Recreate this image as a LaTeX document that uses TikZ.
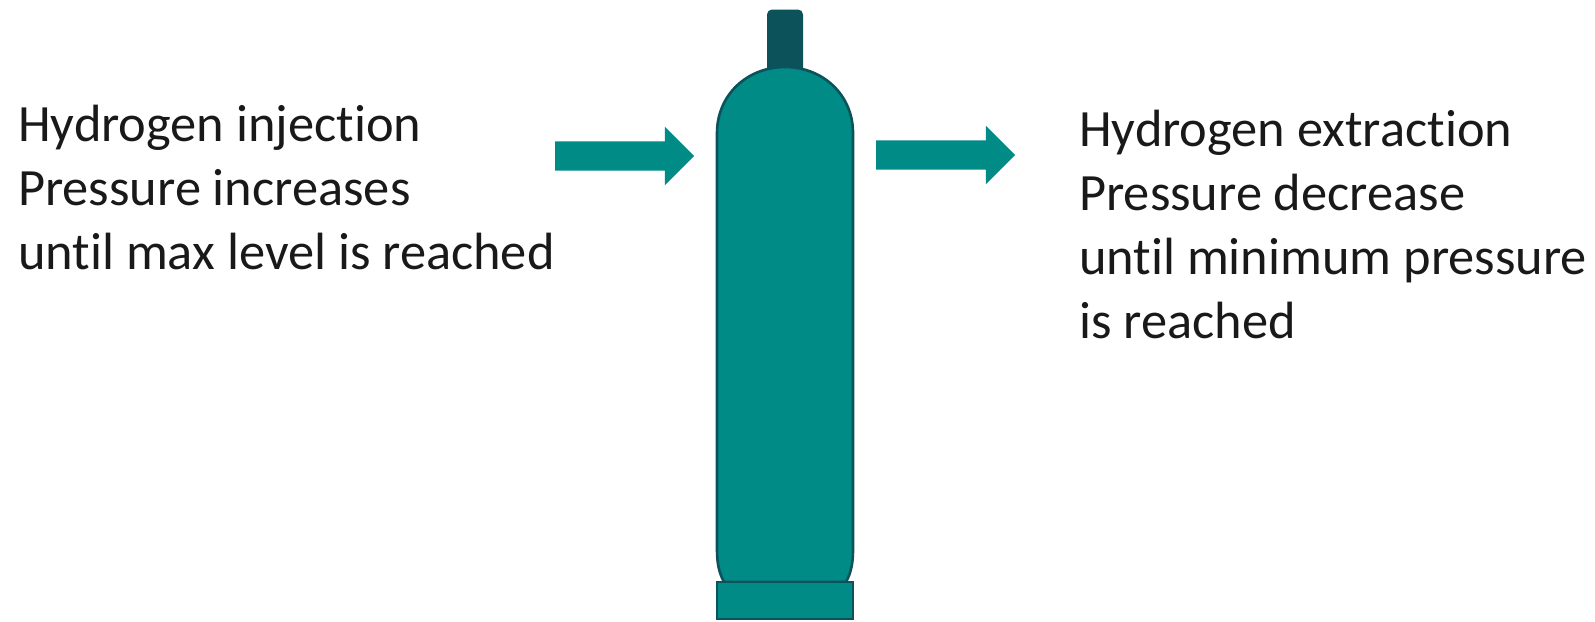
\documentclass[tikz,border=0pt]{standalone}
\usepackage{fontspec}
\setmainfont[Ligatures=NoCommon]{Carlito}
\usepackage{xcolor}
\usetikzlibrary{positioning, shapes.arrows}
\definecolor{tealfill}{RGB}{0,139,135}
\definecolor{tealdark}{RGB}{11,82,91}
\tikzset{
  label text/.style={
    anchor=north west, align=left, inner sep=0pt, text=black!90,
    font=\fontsize{52.4}{64}\selectfont
  },
  flow arrow/.style={
    single arrow, fill=tealfill, draw=none, inner sep=14.5pt, outer sep=0pt, anchor=west,
    minimum height=139pt, minimum width=58pt,
    single arrow head extend=14.5pt, single arrow head indent=0pt,
    shape border rotate=0
  },
  tank part/.style={fill=tealfill, draw=tealdark, line width=2.6pt},
}

\begin{document}
\begin{tikzpicture}[x=1pt, y=-1pt]
  \useasboundingbox (0,0) rectangle (1595,621);

  % neck, body and foot of the tank
  \fill[tealdark, rounded corners=5pt] (767,9.5) rectangle (803,80);
  \draw[tank part] (717,133) .. controls (717,95) and (747,67) .. (785,67)
        .. controls (823,67) and (853,95) .. (853,133)
        -- (853,550) .. controls (853,563) and (851,573) .. (846,582)
        -- (724,582) .. controls (719,573) and (717,563) .. (717,550) -- cycle;
  \node[tank part, draw, inner sep=0pt, outer sep=0pt, minimum width=136pt, minimum height=37pt, anchor=north west] (foot) at (717,582) {};

  \coordinate (in start) at (555,156);
  \coordinate (out start) at (876,155);
  \node[flow arrow] (in arrow) at (in start) {};
  \node[flow arrow] (out arrow) at (out start) {};

  \node[label text] (in text) at (18,105) {Hydrogen injection\\Pressure increases\\until max level is reached};
  \node[label text] (out text) at (1079,110) {Hydrogen extraction\\Pressure decrease\\until minimum pressure\\is reached};
\end{tikzpicture}
\end{document}
